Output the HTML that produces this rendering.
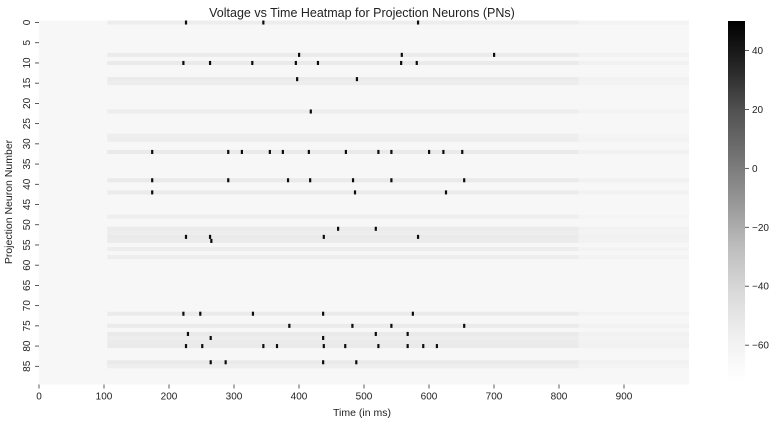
<!DOCTYPE html>
<html><head><meta charset="utf-8"><style>
body{margin:0;background:#fff;width:781px;height:424px;overflow:hidden;font-family:"Liberation Sans",sans-serif}
svg text{font-family:"Liberation Sans",sans-serif;fill:#222}
</style></head><body>
<svg id="chart" width="781" height="424" viewBox="0 0 781 424" xmlns="http://www.w3.org/2000/svg">
<text x="362" y="17" font-size="12.5" text-anchor="middle">Voltage vs Time Heatmap for Projection Neurons (PNs)</text>
<g id="cells"></g>
<g id="xaxis"></g>
<g id="yaxis"></g>
<text x="362" y="416" font-size="10.5" text-anchor="middle">Time (in ms)</text>
<text x="0" y="0" font-size="10.5" text-anchor="middle" transform="translate(12,202) rotate(-90)">Projection Neuron Number</text>
<defs><linearGradient id="cbg" x1="0" y1="1" x2="0" y2="0">
<stop offset="0" stop-color="#ffffff"/><stop offset="0.125" stop-color="#f0f0f0"/><stop offset="0.25" stop-color="#d9d9d9"/><stop offset="0.375" stop-color="#bdbdbd"/><stop offset="0.5" stop-color="#969696"/><stop offset="0.625" stop-color="#737373"/><stop offset="0.75" stop-color="#525252"/><stop offset="0.875" stop-color="#252525"/><stop offset="1" stop-color="#000000"/></linearGradient></defs>
<rect x="728" y="21" width="17" height="361" fill="url(#cbg)"/>
<g id="cbar"></g>
</svg>
<script>
// data
const nRows = 90;
const tMax = 1000;
const restValue = -64;
const activeRows = [0,8,10,14,15,22,28,29,32,39,42,48,51,52,53,54,56,58,72,75,77,78,79,80,84,85];
const activeLevels = [-55,-54,-53,-54,-55,-55,-56,-55,-53,-53,-54,-56,-54,-55,-53,-54,-55,-55,-54,-54,-53,-55,-54,-53,-53,-56];
const activeStart = 105, activeEnd = 830, tailLevelOffset = -5;
const spikeRows = [0,0,0, 8,8,8, 10,10,10,10,10,10,10, 14,14, 22,
 32,32,32,32,32,32,32,32,32,32,32,32, 39,39,39,39,39,39,39, 42,42,42,
 51,51, 53,53,53,53, 54, 72,72,72,72,72, 75,75,75,75, 77,77,77, 78,78,
 80,80,80,80,80,80,80,80,80,80, 84,84,84,84];
const spikeTimes = [226,345,583, 400,558,700, 222,263,328,395,429,557,581, 397,489, 418,
 174,291,312,355,375,415,472,522,542,600,622,651, 174,291,383,417,483,542,654, 174,486,626,
 460,518, 226,263,438,583, 265, 222,248,329,437,575, 385,482,542,654, 229,518,567, 264,437,
 226,251,345,366,438,471,522,567,591,612, 264,287,437,488];
const spikeValue = 45;
const vMin = -72.5, vMax = 50;
const xTicks = [0,100,200,300,400,500,600,700,800,900];
const cbTicks = [40,20,0,-20,-40,-60];

// geometry
const X0=39, X1=689, Y0=20.5, Y1=384.5;
const xs = t => X0 + (t/tMax)*(X1-X0);
const rowH = (Y1-Y0)/nRows;
const ys = r => Y0 + r*rowH;
const stops=[[0,255],[.125,240],[.25,217],[.375,189],[.5,150],[.625,115],[.75,82],[.875,37],[1,0]];
function color(v){let f=Math.max(0,Math.min(1,(v-vMin)/(vMax-vMin)));
 for(let i=1;i<stops.length;i++){if(f<=stops[i][0]){const a=stops[i-1],b=stops[i];const g=Math.round(a[1]+(b[1]-a[1])*(f-a[0])/(b[0]-a[0]));return `rgb(${g},${g},${g})`;}}return '#000';}
const NS='http://www.w3.org/2000/svg';
function mk(tag,attrs,parent){const e=document.createElementNS(NS,tag);for(const k in attrs)e.setAttribute(k,attrs[k]);parent.appendChild(e);return e;}
const cells=document.getElementById('cells');
const bg=mk('rect',{x:X0,y:Y0,width:X1-X0,height:Y1-Y0,fill:color(restValue)},cells);


activeRows.forEach((r,i)=>{
 const a=mk('rect',{x:xs(activeStart),y:ys(r),width:xs(activeEnd)-xs(activeStart),height:rowH,fill:color(activeLevels[i])},cells);
 
 
 const b=mk('rect',{x:xs(activeEnd),y:ys(r),width:X1-xs(activeEnd),height:rowH,fill:color(activeLevels[i]+tailLevelOffset)},cells);
 
 
});
spikeRows.forEach((r,i)=>{
 const s=mk('rect',{x:xs(spikeTimes[i])-1,y:ys(r),width:2.2,height:rowH,fill:color(spikeValue)},cells);
 
 
});
const xa=document.getElementById('xaxis');
xTicks.forEach(t=>{
 const l=mk('line',{x1:xs(t),x2:xs(t),y1:Y1,y2:Y1+4,stroke:'#333','stroke-width':0.8},xa);
 
 
 const tx=mk('text',{x:xs(t),y:Y1+15,'font-size':10,'text-anchor':'middle'},xa);tx.textContent=t;
 
 
});
const ya=document.getElementById('yaxis');
for(let r=0;r<nRows;r+=5){
 const y=ys(r)+rowH/2;
 const l=mk('line',{x1:X0-4,x2:X0,y1:y,y2:y,stroke:'#333','stroke-width':0.8},ya);
 
 
 const tx=mk('text',{x:0,y:0,'font-size':10,'text-anchor':'middle',transform:`translate(30,${y}) rotate(-90)`},ya);tx.textContent=r;
 
 
}
const cb=document.getElementById('cbar');
const cy=v=>21+361*(vMax-v)/(vMax-vMin);
cbTicks.forEach(v=>{
 const l=mk('line',{x1:745,x2:749,y1:cy(v),y2:cy(v),stroke:'#333','stroke-width':0.8},cb);
 
 
 const tx=mk('text',{x:752,y:cy(v)+3.5,'font-size':10},cb);tx.textContent=v<0?'\u2212'+(-v):v;
 
 
});
</script>
</body></html>
